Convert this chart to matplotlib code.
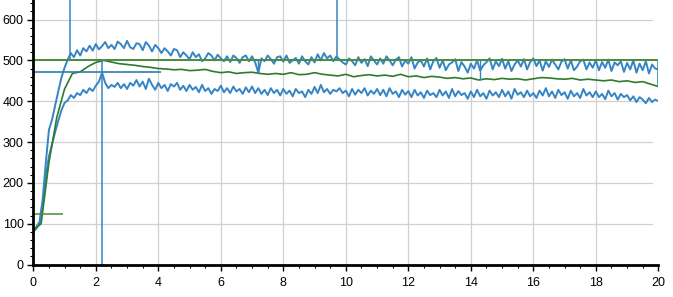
import numpy as np
import matplotlib.pyplot as plt

plt.rcParams['font.family'] = ['Liberation Sans', 'DejaVu Sans']

# time base of the two noisy bands (step 0.1 s) and of the mean curve (step 0.25 s)
t_band = np.round(np.arange(0, 20.001, 0.1), 2)
t_mean = np.round(np.arange(0, 20.001, 0.25), 2)

upper = [
    85, 92, 105, 160, 250, 330, 355, 390, 425, 458,
    482, 502, 518, 508, 525, 512, 530, 522, 536, 524,
    540, 527, 535, 545, 530, 538, 528, 546, 540, 530,
    548, 532, 528, 542, 540, 525, 545, 536, 522, 538,
    530, 518, 530, 522, 512, 528, 525, 508, 520, 512,
    503, 520, 508, 515, 498, 505, 518, 512, 500, 514,
    505, 498, 510, 496, 512, 506, 494, 508, 512, 498,
    510, 495, 470, 505, 498, 512, 503, 492, 508, 510,
    497, 512, 494, 500, 506, 492, 510, 498, 490, 508,
    495, 515, 500, 518, 505, 512, 498, 510, 502, 495,
    490, 505, 498, 488, 508, 494, 503, 486, 510, 500,
    490, 505, 492, 510, 500, 488, 502, 508, 485, 500,
    492, 508, 480, 495, 500, 485, 505, 478, 498, 506,
    482, 500, 476, 490, 495, 503, 474, 496, 485, 470,
    492, 480, 500, 475, 488, 496, 505, 478, 498, 486,
    504, 480, 498, 474, 490, 500, 485, 503, 478, 496,
    505, 486, 500, 475, 498, 484, 502, 490, 478, 497,
    503, 480, 500, 476, 485, 498, 502, 478, 495, 482,
    500, 476, 496, 482, 502, 474, 495, 488, 498, 472,
    494, 478, 500, 470, 492, 476, 498, 468, 490, 480,
    478,
]

lower = [
    80, 88, 100, 145, 215, 265, 295, 325, 352, 378,
    396, 402, 415, 408, 420, 415, 428, 420, 432, 425,
    438, 448, 470, 445, 432, 440, 435, 445, 432, 442,
    430, 445, 438, 452, 436, 448, 430, 455, 440, 428,
    445, 432, 440, 425, 442, 436, 445, 428, 438, 425,
    440, 428, 435, 422, 440, 425, 432, 418, 430, 425,
    438, 422, 432, 420, 436, 424, 430, 418, 434, 422,
    436, 420, 432, 418, 428, 415, 432, 420, 428, 414,
    430, 418, 426, 412, 430, 420, 424, 410, 428, 418,
    435, 420, 440, 422, 430, 418, 428, 424, 432, 420,
    426, 412, 430, 416, 428, 420, 432, 414, 426, 418,
    430, 415, 428, 412, 432, 418, 424, 410, 428, 416,
    425, 410, 428, 414, 422, 408, 426, 415, 420, 410,
    428, 414, 424, 408, 430, 412, 425, 415, 420, 406,
    424, 410, 428, 412, 420, 406, 426, 414, 422, 410,
    428, 412, 424, 406, 430, 416, 422, 410, 426, 412,
    420, 408, 426, 414, 432, 412, 424, 408, 428, 415,
    422, 406, 426, 412, 420, 408, 430, 414, 422, 410,
    424, 410, 418, 405, 426, 412, 420, 404, 418, 410,
    415, 402, 412, 398, 410, 404, 395, 408, 398, 404,
    400,
]

mean = [
    85, 100, 250, 360, 430, 468, 472, 485, 495, 500,
    496, 492, 490, 488, 485, 483, 480, 479, 477, 478,
    475, 476, 478, 473, 470, 472, 468, 470, 471, 468,
    466, 468, 466, 470, 465, 466, 470, 466, 464, 462,
    466, 460, 463, 465, 462, 464, 461, 466, 460, 462,
    458, 461, 459, 456, 458, 455, 457, 452, 455, 453,
    456, 454, 455, 452, 455, 458, 457, 455, 454, 456,
    452, 454, 452, 450, 452, 448, 450, 446, 448, 442,
    436,
]

setpoint = 500
start_level = 123
settle_level = 472
markers_full = [(1.17, 500, 648), (9.73, 500, 648), (2.2, 0, 500)]
markers_short = [7.2, 14.3]

blue = '#3585c6'
green = '#2f7a2c'

fig = plt.figure(figsize=(6.73, 2.97), dpi=100)
ax = fig.add_axes([0.0495, 0.1094, 0.9287, 0.8906])

ax.plot(t_band, upper, color=blue, lw=1.4)
ax.plot(t_band, lower, color=blue, lw=1.4)
ax.plot(t_mean, mean, color=green, lw=1.2)

ax.hlines(setpoint, 0, 20, color='#4a8c3c', lw=1.4)
ax.hlines(start_level, 0, 0.95, color='#4a8c3c', lw=1.1)
ax.hlines(settle_level, 0, 4.1, color='#2a7fb0', lw=1.2)
for x, y0, y1 in markers_full:
    ax.vlines(x, y0, y1, color=blue, lw=1.1)
for x in markers_short:
    ax.vlines(x, np.interp(x, t_mean, mean), setpoint, color=blue, lw=1.0)
ax.vlines(20, mean[-1], setpoint, color='#3a8f9a', lw=1.2)

ax.set_xlim(0, 20)
ax.set_ylim(0, 648)
ax.set_xticks(range(0, 21, 2))
ax.set_xticks(np.arange(0, 20.01, 0.5), minor=True)
ax.set_yticks(range(0, 601, 100))
ax.set_yticks(range(0, 641, 20), minor=True)

for x in range(2, 20, 2):
    ax.axvline(x, color='#d0d0d0', lw=0.9, zorder=0)
for y in range(100, 601, 100):
    ax.axhline(y, xmax=0.99, color='#d0d0d0', lw=0.9, zorder=0)

for s in ['top', 'right']:
    ax.spines[s].set_visible(False)
for s in ['left', 'bottom']:
    ax.spines[s].set_linewidth(2)
ax.tick_params(which='major', length=4, width=1, labelsize=9, pad=3)
ax.tick_params(axis='x', which='major', pad=5)
ax.tick_params(which='minor', length=2.5, width=0.8)

fig.savefig('out.png', dpi=100)
